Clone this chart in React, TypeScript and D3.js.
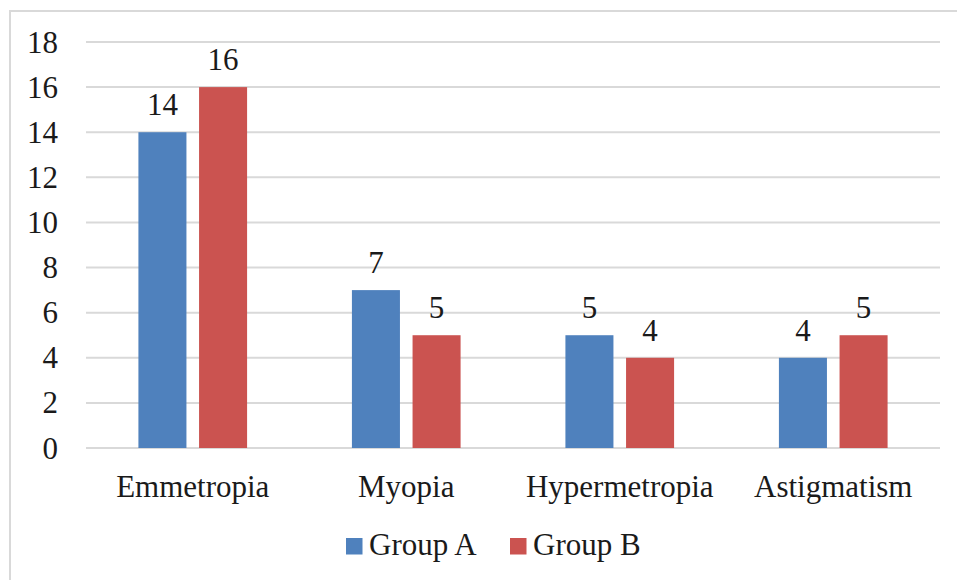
import React, { useEffect, useRef } from 'react';
import * as d3 from 'd3';

const categories = ['Emmetropia', 'Myopia', 'Hypermetropia', 'Astigmatism'];
const seriesNames = ['Group A', 'Group B'];
const groupA = [14, 7, 5, 4];
const groupB = [16, 5, 4, 5];
const yTicks = [0, 2, 4, 6, 8, 10, 12, 14, 16, 18];
const colors = ['#4f81bd', '#cb5350'];

const App = () => {
  const ref = useRef<SVGSVGElement | null>(null);

  useEffect(() => {
    if (!ref.current) return;
    const svg = d3.select(ref.current);
    svg.selectAll('*').remove();

    const width = 957;
    const height = 580;
    const font = "'Liberation Serif', Tinos, 'Times New Roman', Times, 'DejaVu Serif', serif";
    const fontSize = 31;

    // outer frame
    svg.append('rect')
      .attr('x', 10).attr('y', 11)
      .attr('width', width + 20).attr('height', height + 20)
      .attr('fill', '#fff')
      .attr('stroke', '#d9d9d9')
      .attr('stroke-width', 2);

    const x0 = d3.scaleBand().domain(categories).range([86, 940]).paddingInner(0.491).paddingOuter(0.2455);
    const x1 = d3.scaleBand().domain(seriesNames).range([0, x0.bandwidth()]).paddingInner(0.208);
    const y = d3.scaleLinear().domain([0, 18]).range([448, 42]);

    const g = svg.append('g').attr('font-family', font).attr('font-size', fontSize).attr('fill', '#1a1a1a');

    // gridlines
    g.append('g')
      .selectAll('line')
      .data(yTicks)
      .enter()
      .append('line')
        .attr('x1', 86).attr('x2', 940)
        .attr('y1', d => y(d)).attr('y2', d => y(d))
        .attr('stroke', '#d9d9d9')
        .attr('stroke-width', 2);

    // y tick labels
    g.append('g')
      .selectAll('text')
      .data(yTicks)
      .enter()
      .append('text')
        .attr('x', 58)
        .attr('y', d => y(d) + 10.5)
        .attr('text-anchor', 'end')
        .text(d => d);

    const rows = categories.map((c, i) => ({ cat: c, vals: [groupA[i], groupB[i]] }));

    const groups = g.append('g')
      .selectAll('g')
      .data(rows)
      .enter()
      .append('g')
        .attr('transform', d => `translate(${x0(d.cat)},0)`);

    groups.selectAll('rect')
      .data(d => d.vals.map((v, j) => ({ name: seriesNames[j], v, j })))
      .enter()
      .append('rect')
        .attr('x', d => x1(d.name) as number)
        .attr('y', d => y(d.v))
        .attr('width', x1.bandwidth())
        .attr('height', d => y(0) - y(d.v))
        .attr('fill', d => colors[d.j]);

    groups.selectAll('text')
      .data(d => d.vals.map((v, j) => ({ name: seriesNames[j], v, j })))
      .enter()
      .append('text')
        .attr('x', d => (x1(d.name) as number) + x1.bandwidth() / 2)
        .attr('y', d => y(d.v) - 17)
        .attr('text-anchor', 'middle')
        .text(d => d.v);

    // category labels
    g.append('g')
      .selectAll('text')
      .data(categories)
      .enter()
      .append('text')
        .attr('x', d => (x0(d) as number) + x0.bandwidth() / 2)
        .attr('y', 497)
        .attr('text-anchor', 'middle')
        .text(d => d);

    // legend
    const legendX = [346, 510];
    const legend = g.append('g')
      .selectAll('g')
      .data(seriesNames)
      .enter()
      .append('g')
        .attr('transform', (d, i) => `translate(${legendX[i]},0)`);

    legend.append('rect')
      .attr('x', 0).attr('y', 538)
      .attr('width', 16.5).attr('height', 16.5)
      .attr('fill', (d, i) => colors[i]);

    legend.append('text')
      .attr('x', 23)
      .attr('y', 555)
      .text(d => d);
  }, []);

  return (
    <svg
      ref={ref}
      width={957}
      height={580}
      style={{ position: 'absolute', left: 0, top: 0, background: '#fff' }}
    />
  );
};

export default App;
